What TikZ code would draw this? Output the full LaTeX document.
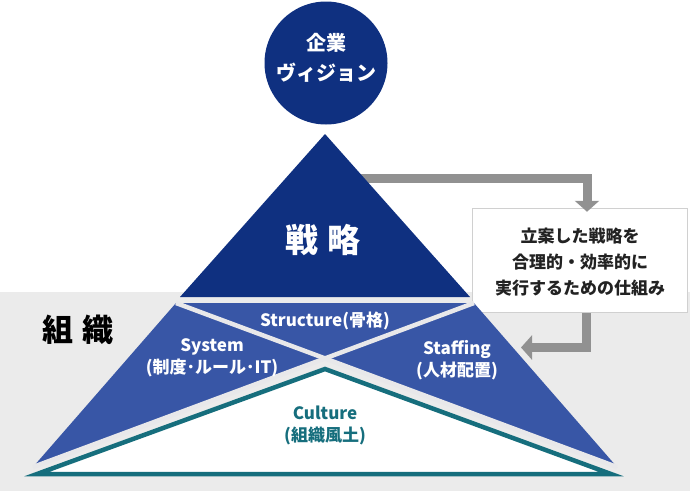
\documentclass[tikz,border=0pt]{standalone}
\usepackage{fontspec}
\newfontfamily\jp{Noto Sans CJK JP}
\usetikzlibrary{arrows.meta}
\definecolor{navy}{RGB}{15,48,128}
\definecolor{midblue}{RGB}{56,86,166}
\definecolor{teal}{RGB}{22,110,125}
\definecolor{bggray}{RGB}{235,235,235}
\definecolor{sepgray}{RGB}{232,232,234}
\definecolor{arrgray}{RGB}{145,145,145}
\definecolor{boxborder}{RGB}{208,208,208}
\definecolor{darktext}{RGB}{34,34,34}
\tikzset{
  region/.style={fill=midblue},
  sepline/.style={draw=sepgray, line width=4.5pt},
  lbl/.style={text=white, align=center, font=\jp\bfseries\fontsize{17}{22.5}\selectfont},
  flowarrow/.style={draw=arrgray, line width=9pt, -{Triangle[width=24pt,length=11pt]}},
}
\begin{document}
\begin{tikzpicture}[x=1pt,y=-1pt]
\useasboundingbox (0,0) rectangle (690,491);
\fill[bggray] (0,292) rectangle (690,491);
% coordinates
\coordinate (apex) at (325,134);
\coordinate (sl) at (180,297);
\coordinate (sr) at (470,297);
\coordinate (TL) at (176,303);
\coordinate (TR) at (474,303);
\coordinate (BL) at (33,467);
\coordinate (BR) at (617,467);
\coordinate (C) at (325,360);
\coordinate (cA) at (325,369);
\coordinate (cL) at (37,474);
\coordinate (cR) at (611,474);
% arrows (under the triangle)
\node[draw=boxborder, line width=1.5pt, fill=white, minimum width=215pt, minimum height=104pt, inner sep=0pt] (box) at (580,260.5) {};
\coordinate (a1s) at (330,178);
\coordinate (a2e) at (521,347.5);
\draw[flowarrow] (a1s) -| ([yshift=-4pt]box.north -| 587,0);
\draw[flowarrow] (box.south -| 586,0) |- (a2e);
% strategy triangle
\fill[navy] (apex) -- (sr) -- (sl) -- cycle;
% vision circle
\node[circle, fill=navy, minimum size=123pt, inner sep=0pt] (vision) at (326,63) {};
\node[lbl, font=\jp\bfseries\fontsize{20}{30}\selectfont] (visiontxt) at (326,58) {企業\\ヴィジョン};
\node[text=white, font=\jp\bfseries\fontsize{33}{33}\selectfont] (strat) at (323,240) {戦\hspace{0.3em}略};
% organisation
\fill[region] (TL) -- (TR) -- (C) -- cycle;
\fill[region] (TL) -- (C) -- (BL) -- cycle;
\fill[region] (TR) -- (C) -- (BR) -- cycle;
\draw[sepline] (TL) -- (BR);
\draw[sepline] (TR) -- (BL);
\draw[teal, line width=4.5pt, fill=white, line join=miter, miter limit=30] (cA) -- (cR) -- (cL) -- cycle;
\node[font=\jp\bfseries\fontsize{31}{31}\selectfont, text=black] (org) at (78,330) {組\hspace{0.3em}織};
\node[lbl] (structure) at (325,321) {Structure(骨格)};
\node[lbl] (system) at (212,358) {System\\(制度･ルール･IT)};
\node[lbl] (staffing) at (457,360) {Staffing\\(人材配置)};
\node[lbl, text=teal] (culture) at (325,425.5) {Culture\\(組織風土)};
\node[align=center, text=darktext, font=\jp\bfseries\fontsize{17}{26}\selectfont] (boxtxt) at (580,262) {立案した戦略を\\合理的・効率的に\\実行するための仕組み};
\end{tikzpicture}
\end{document}
